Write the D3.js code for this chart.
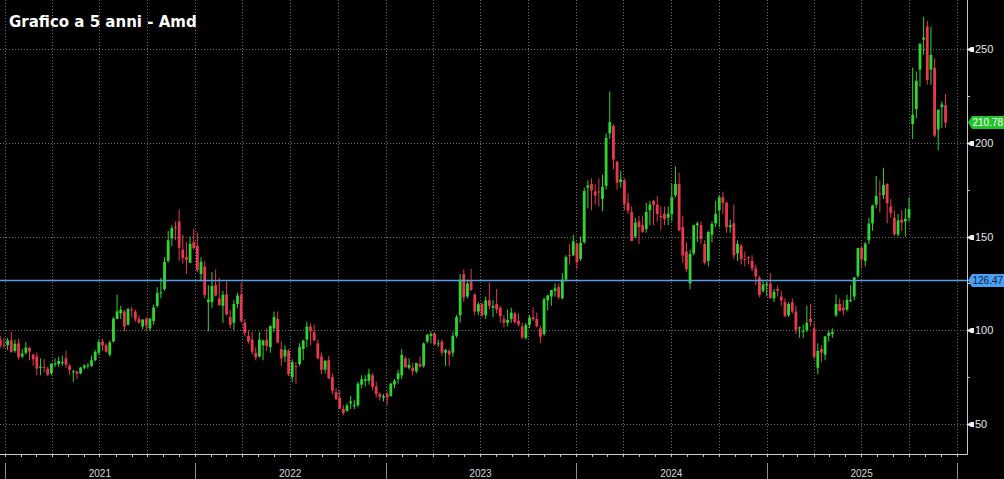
<!DOCTYPE html>
<html>
<head>
<meta charset="utf-8">
<script src="https://cdn.jsdelivr.net/npm/d3@7"></script>
<style>
  body { margin: 0; background: #000; }
  svg { display: block; }
</style>
</head>
<body>
<svg id="chart" width="1004" height="479"></svg>
<script>
var title = "Grafico a 5 anni - Amd";
var firstWeek = new Date(2020, 11, 21);   // monday of first weekly candle
var yTicks = [50, 100, 150, 200, 250];
var yMinor = [75, 125, 175, 225];
var years = [2021, 2022, 2023, 2024, 2025];
var lastPrice = 210.78;
var refLevel = 126.47;

// weekly candles: [open, high, low, close]
var ohlc2020 = [
  [95.0, 97.0, 90.5, 91.8], [92.0, 96.0, 90.3, 91.7]
];
var ohlc2021 = [
  [92.1, 96.0, 89.5, 94.6], [94.6, 99.2, 88.0, 88.5], [89.0, 95.0, 88.0, 92.8], [93.0, 95.5, 84.5, 85.6],
  [86.0, 90.0, 85.0, 87.6], [88.0, 93.7, 87.0, 90.7], [90.5, 91.0, 84.0, 88.6], [87.0, 87.5, 81.0, 84.5],
  [86.0, 88.0, 76.0, 79.6], [80.0, 85.0, 76.0, 80.6], [80.5, 84.5, 77.5, 80.3], [79.5, 80.5, 75.5, 76.3], [77.0, 82.5, 76.0, 82.0],
  [82.0, 85.0, 80.5, 82.2], [82.0, 86.0, 80.5, 83.6], [83.0, 86.5, 81.0, 83.0], [85.0, 89.0, 80.0, 81.6],
  [81.0, 82.0, 76.0, 78.8], [78.0, 79.0, 72.5, 78.1], [78.0, 78.5, 74.0, 76.8], [77.0, 80.5, 76.5, 80.1], [80.0, 82.0, 79.0, 81.2],
  [81.0, 82.5, 79.5, 81.3], [81.0, 86.5, 80.5, 84.0], [84.0, 89.5, 83.5, 88.5], [88.0, 95.0, 87.0, 93.7],
  [94.0, 95.5, 89.0, 91.9], [92.0, 93.0, 88.0, 88.6], [87.0, 94.5, 86.0, 93.5], [94.0, 107.0, 93.5, 106.2],
  [106.0, 119.0, 106.0, 110.1], [109.0, 113.0, 106.0, 111.0], [110.0, 111.0, 99.5, 102.0], [103.0, 112.0, 102.5, 111.3], [111.0, 112.5, 107.0, 110.8],
  [110.0, 111.0, 104.5, 105.8], [106.0, 108.0, 103.5, 104.0], [102.0, 106.0, 100.5, 105.6], [106.0, 107.0, 99.5, 102.5],
  [101.0, 106.5, 99.5, 106.1], [105.0, 113.5, 103.0, 112.1], [113.0, 123.0, 112.0, 119.8], [120.0, 128.0, 117.0, 120.2],
  [122.0, 139.0, 121.0, 136.5], [137.0, 153.0, 136.0, 148.0], [149.0, 156.0, 145.0, 154.5], [155.0, 158.0, 148.0, 154.8], [158.0, 164.5, 137.0, 144.0],
  [143.0, 151.0, 135.5, 138.5], [139.0, 147.0, 130.0, 137.5], [136.0, 150.0, 136.0, 146.0], [147.0, 154.0, 143.0, 143.9]
];
var ohlc2022 = [
  [145.0, 152.0, 131.0, 132.0], [130.0, 139.0, 126.0, 136.5], [134.0, 137.0, 117.0, 118.8], [115.0, 124.0, 99.4, 116.4], [115.0, 131.0, 112.0, 123.6],
  [124.0, 132.5, 118.0, 118.5], [117.0, 128.0, 113.0, 113.5], [113.0, 121.0, 104.0, 119.0], [119.0, 126.0, 108.0, 108.4],
  [107.0, 111.0, 101.0, 102.9], [104.0, 116.0, 100.0, 114.0], [114.0, 120.0, 112.0, 118.5], [119.0, 125.5, 104.0, 105.0],
  [104.0, 106.0, 97.0, 98.5], [97.0, 100.0, 93.0, 94.0], [95.0, 99.0, 87.0, 88.5], [88.0, 91.0, 84.0, 85.5],
  [86.0, 99.0, 85.5, 95.0], [92.0, 95.0, 84.0, 94.5], [95.0, 101.0, 89.0, 91.5], [91.0, 102.5, 88.0, 102.2], [101.0, 110.0, 99.0, 107.0],
  [106.0, 110.0, 93.0, 93.5], [90.0, 94.0, 81.0, 85.0], [86.0, 92.0, 83.0, 89.6], [89.0, 90.0, 75.5, 76.5],
  [75.0, 84.5, 72.5, 83.0], [81.0, 83.0, 71.5, 80.5], [82.0, 93.0, 81.0, 91.0], [90.0, 95.0, 84.0, 94.5],
  [95.0, 104.5, 91.0, 102.0], [102.0, 103.5, 92.0, 99.5], [99.0, 103.0, 94.0, 94.8], [93.0, 95.0, 84.5, 85.0], [86.0, 88.0, 76.5, 78.8],
  [79.0, 84.0, 77.0, 83.8], [84.0, 86.5, 74.0, 74.4], [75.0, 77.0, 66.0, 67.7], [67.0, 69.0, 62.8, 63.4],
  [64.0, 68.0, 58.0, 58.2], [58.0, 60.0, 54.6, 55.9], [57.0, 61.0, 56.5, 59.9], [61.0, 65.0, 58.0, 62.0], [60.0, 63.0, 58.0, 60.0],
  [60.0, 72.5, 59.0, 71.5], [71.0, 76.0, 69.0, 73.8], [73.0, 76.0, 70.0, 73.9], [73.0, 79.5, 71.0, 76.8],
  [76.0, 77.0, 68.0, 69.8], [70.0, 72.5, 64.0, 66.0], [66.0, 67.0, 62.5, 64.5], [64.0, 66.0, 62.0, 64.8]
];
var ohlc2023 = [
  [66.0, 67.5, 60.0, 64.0], [65.0, 72.0, 64.5, 71.5], [71.0, 74.0, 69.0, 73.0], [74.0, 79.0, 71.5, 77.0], [76.0, 90.0, 74.0, 86.8],
  [85.0, 86.0, 80.0, 80.3], [80.0, 85.0, 79.0, 81.5], [80.0, 82.5, 76.0, 78.1], [78.0, 82.5, 77.0, 82.5],
  [82.0, 86.0, 80.0, 80.6], [81.0, 93.5, 80.0, 93.0], [94.0, 98.0, 93.0, 97.5], [97.0, 99.5, 93.0, 98.0],
  [98.0, 99.0, 92.0, 92.5], [93.0, 95.0, 91.0, 93.0], [94.0, 95.0, 86.5, 88.0], [88.0, 90.0, 81.0, 89.4],
  [89.0, 90.0, 81.0, 87.0], [88.0, 99.0, 86.0, 97.0], [97.0, 108.0, 96.0, 107.0], [108.0, 130.0, 104.0, 127.0], [130.0, 132.5, 115.0, 117.5],
  [118.0, 127.0, 117.0, 124.9], [126.0, 132.8, 121.0, 121.4], [119.0, 120.0, 108.0, 110.0], [110.0, 115.0, 108.0, 113.9],
  [114.0, 115.0, 107.0, 108.0], [108.0, 118.0, 106.0, 115.9], [116.0, 125.5, 111.0, 113.0], [112.0, 116.0, 107.0, 113.0], [114.0, 122.0, 109.0, 111.0],
  [112.0, 113.0, 104.0, 107.6], [106.0, 108.0, 101.5, 104.0], [104.0, 111.0, 102.0, 105.5], [106.0, 112.0, 104.0, 109.4],
  [109.0, 110.0, 103.5, 104.3], [105.0, 109.0, 102.0, 103.0], [102.0, 104.0, 95.5, 96.1], [96.0, 104.0, 95.0, 102.8],
  [103.0, 108.0, 101.0, 106.7], [107.0, 112.0, 105.0, 105.8], [106.0, 109.5, 101.5, 102.1], [101.0, 102.5, 93.1, 96.6], [98.0, 117.5, 97.0, 116.5],
  [116.0, 119.0, 110.5, 118.6], [118.0, 121.5, 113.0, 121.4], [121.0, 125.0, 118.0, 122.3], [123.0, 125.0, 116.5, 117.6],
  [117.0, 130.5, 116.5, 127.0], [127.0, 140.0, 126.0, 139.0], [140.0, 146.0, 135.0, 139.6], [140.0, 151.0, 139.5, 147.4]
];
var ohlc2024 = [
  [146.0, 147.0, 132.5, 136.3], [138.0, 150.0, 137.0, 146.6], [147.0, 176.0, 146.0, 174.2], [176.0, 180.0, 165.0, 177.3], [178.0, 181.0, 164.0, 174.5],
  [174.0, 178.0, 167.0, 171.8], [174.0, 181.0, 166.0, 173.9], [170.0, 183.0, 163.5, 176.5], [177.0, 205.0, 175.0, 202.6],
  [205.0, 227.3, 202.0, 211.0], [209.0, 210.0, 186.0, 191.0], [190.0, 190.0, 175.0, 178.7], [179.0, 185.0, 176.0, 180.5],
  [180.0, 181.0, 164.0, 167.5], [168.0, 173.0, 162.0, 163.7], [163.0, 166.0, 147.5, 147.6], [150.0, 160.0, 149.0, 157.4], [158.0, 161.0, 146.0, 155.0],
  [156.0, 161.0, 152.0, 152.5], [154.0, 168.0, 152.0, 163.0], [164.0, 169.0, 156.0, 167.0], [169.0, 169.5, 156.0, 166.9],
  [167.0, 171.5, 158.0, 162.0], [161.0, 166.0, 153.5, 160.3], [162.0, 166.0, 156.0, 159.2], [160.0, 166.0, 156.0, 162.2],
  [162.0, 178.0, 158.0, 171.0], [172.0, 187.3, 171.0, 178.0], [178.0, 184.0, 153.0, 153.2], [155.0, 161.0, 136.0, 139.9], [142.0, 147.0, 131.0, 132.5],
  [125.0, 143.0, 121.8, 140.7], [141.0, 156.0, 140.0, 156.0], [156.0, 158.0, 147.0, 157.0], [156.0, 158.0, 146.0, 148.6],
  [146.0, 148.0, 135.0, 136.0], [137.0, 153.0, 134.0, 152.4], [151.0, 158.0, 147.0, 156.7], [157.0, 169.0, 155.0, 162.0], [164.0, 172.0, 155.0, 170.9],
  [171.0, 174.0, 162.0, 167.9], [168.0, 168.5, 152.0, 155.0], [155.0, 159.0, 152.0, 156.0], [157.0, 167.0, 138.0, 140.0],
  [141.0, 148.0, 137.0, 146.0], [145.0, 146.0, 135.0, 138.0], [138.0, 142.0, 134.0, 137.7], [139.0, 139.5, 135.0, 138.6],
  [137.0, 140.0, 131.5, 133.0], [133.0, 135.0, 124.0, 128.8], [128.0, 129.0, 117.5, 118.8], [121.0, 127.0, 120.0, 124.4], [124.0, 126.0, 118.0, 124.6]
];
var ohlc2025 = [
  [125.0, 130.5, 117.0, 117.0], [117.0, 122.0, 115.0, 120.5], [122.0, 124.0, 118.0, 121.0], [118.0, 121.0, 113.0, 115.9],
  [115.0, 117.0, 107.0, 107.6], [108.0, 115.0, 107.0, 114.0], [115.0, 117.0, 109.0, 110.0], [110.0, 113.0, 98.0, 100.0],
  [101.0, 102.0, 96.0, 101.5], [99.0, 103.0, 96.0, 99.5], [100.0, 113.0, 99.0, 104.0], [106.0, 114.0, 102.0, 104.4], [101.0, 104.0, 84.5, 85.8],
  [80.0, 93.0, 76.5, 89.0], [90.0, 92.0, 83.0, 88.0], [87.0, 97.0, 84.0, 96.7], [97.0, 100.0, 94.0, 98.7],
  [98.0, 101.0, 96.0, 99.0], [108.0, 119.0, 107.0, 114.0], [114.0, 117.0, 110.0, 110.3], [112.0, 116.0, 108.0, 110.7],
  [111.0, 119.0, 110.0, 116.2], [116.0, 124.0, 115.0, 116.2], [118.0, 128.5, 116.0, 128.2], [129.0, 144.0, 128.0, 143.8], [144.0, 145.0, 133.0, 137.9],
  [137.0, 147.0, 134.0, 146.2], [148.0, 160.0, 146.0, 156.9], [157.0, 167.0, 153.0, 166.5], [167.0, 182.3, 165.0, 171.7],
  [173.0, 180.0, 163.0, 172.8], [172.0, 186.6, 170.0, 177.5], [178.0, 178.5, 157.0, 167.8], [166.0, 170.0, 160.0, 162.6],
  [160.0, 164.0, 150.5, 151.1], [151.0, 162.0, 150.0, 158.6], [159.0, 164.0, 153.0, 157.4], [158.0, 165.0, 150.0, 159.5], [160.0, 171.0, 158.0, 164.7],
  [210.0, 240.0, 202.0, 214.9], [218.0, 238.0, 213.0, 233.0], [239.0, 247.0, 230.0, 252.9], [255.0, 267.1, 247.0, 256.1],
  [262.0, 265.0, 231.0, 233.5], [239.0, 262.0, 231.0, 246.8], [240.0, 245.0, 203.0, 203.8], [207.0, 218.0, 196.0, 217.5],
  [219.0, 222.0, 208.0, 220.4], [220.0, 226.0, 208.0, 210.78]
];

var green = "#2fd62f", red = "#e8374f";
var plotRight = 967, plotBottom = 454;

var candles = [].concat(ohlc2020, ohlc2021, ohlc2022, ohlc2023, ohlc2024, ohlc2025)
  .map(function(d, i) {
    // centre each weekly candle on its wednesday
    return { date: d3.timeDay.offset(d3.timeMonday.offset(firstWeek, i), 2),
             o: d[0], h: d[1], l: d[2], c: d[3] };
  });

var svg = d3.select("#chart");

var x = d3.scaleTime()
    .domain([new Date(2021, 0, 1), new Date(2026, 0, 1)])
    .range([5, 957]);
var y = d3.scaleLinear()
    .domain([50, 250])
    .range([424, 49]);

svg.append("defs").append("clipPath").attr("id", "plot")
  .append("rect").attr("x", 0).attr("y", 0).attr("width", plotRight).attr("height", plotBottom);

// dotted grid: quarters and 50s
var quarters = d3.timeMonth.every(3).range(new Date(2020, 9, 1), new Date(2026, 1, 1))
    .filter(function(d) { return x(d) >= 0 && x(d) < plotRight; });
svg.append("g").selectAll("line")
  .data(quarters)
  .enter().append("line")
    .attr("x1", function(d) { return Math.round(x(d)) + 0.5; })
    .attr("x2", function(d) { return Math.round(x(d)) + 0.5; })
    .attr("y1", 0).attr("y2", plotBottom)
    .attr("stroke", "#6e6e6e").attr("stroke-dasharray", "1,2");
svg.append("g").selectAll("line")
  .data(yTicks)
  .enter().append("line")
    .attr("x1", 0).attr("x2", plotRight)
    .attr("y1", function(d) { return Math.round(y(d)) + 0.5; })
    .attr("y2", function(d) { return Math.round(y(d)) + 0.5; })
    .attr("stroke", "#6e6e6e").attr("stroke-dasharray", "1,2");

// candles
var g = svg.append("g").attr("clip-path", "url(#plot)");
var col = function(d) { return d.c >= d.o ? green : red; };
g.selectAll(".wick")
  .data(candles)
  .enter().append("line")
    .attr("class", "wick")
    .attr("x1", function(d) { return x(d.date); })
    .attr("x2", function(d) { return x(d.date); })
    .attr("y1", function(d) { return y(d.h); })
    .attr("y2", function(d) { return y(d.l); })
    .attr("stroke", col).attr("stroke-width", 1);
g.selectAll(".body")
  .data(candles)
  .enter().append("rect")
    .attr("class", "body")
    .attr("x", function(d) { return x(d.date) - 1.4; })
    .attr("width", 2.8)
    .attr("y", function(d) { return y(Math.max(d.o, d.c)); })
    .attr("height", function(d) { return Math.max(1, Math.abs(y(d.o) - y(d.c))); })
    .attr("fill", col);

// reference level
svg.append("line")
  .attr("x1", 0).attr("x2", plotRight)
  .attr("y1", y(refLevel)).attr("y2", y(refLevel))
  .attr("stroke", "#5a9ee8").attr("stroke-width", 1.5);

// axes lines
svg.append("line").attr("x1", plotRight + 0.5).attr("x2", plotRight + 0.5)
  .attr("y1", 0).attr("y2", plotBottom + 0.5).attr("stroke", "#c8c8c8");
svg.append("line").attr("x1", 0).attr("x2", plotRight + 0.5)
  .attr("y1", plotBottom + 0.5).attr("y2", plotBottom + 0.5).attr("stroke", "#c8c8c8");

// month ticks on the time axis
var months = d3.timeMonth.range(new Date(2020, 11, 1), new Date(2026, 1, 1))
    .filter(function(d) { return x(d) >= 0 && x(d) < plotRight; });
svg.append("g").selectAll("line")
  .data(months)
  .enter().append("line")
    .attr("x1", function(d) { return Math.round(x(d)) + 0.5; })
    .attr("x2", function(d) { return Math.round(x(d)) + 0.5; })
    .attr("y1", plotBottom).attr("y2", plotBottom + 3)
    .attr("stroke", "#c8c8c8");

// year separators and labels
svg.append("g").selectAll("line")
  .data(years.concat([2026]))
  .enter().append("line")
    .attr("x1", function(d) { return Math.round(x(new Date(d, 0, 1))) + 0.5; })
    .attr("x2", function(d) { return Math.round(x(new Date(d, 0, 1))) + 0.5; })
    .attr("y1", 463).attr("y2", 479)
    .attr("stroke", "#8a8a8a");
svg.append("g").selectAll("text")
  .data(years)
  .enter().append("text")
    .attr("x", function(d) { return x(new Date(d, 6, 2)); })
    .attr("y", 477)
    .attr("text-anchor", "middle")
    .attr("font-family", "Liberation Sans, Arial, sans-serif")
    .attr("font-size", 10)
    .attr("fill", "#d8d8d8")
    .text(function(d) { return d; });

// y axis: flags, labels, minor ticks
var ya = svg.append("g");
ya.selectAll("path")
  .data(yTicks)
  .enter().append("path")
    .attr("d", function(d) {
      var yy = Math.round(y(d)) + 0.5;
      return "M" + plotRight + "," + yy + "L971," + (yy - 2.5) + "L974," + (yy - 2.5) +
             "L974," + (yy + 2.5) + "L971," + (yy + 2.5) + "Z";
    })
    .attr("fill", "#f0f0f0");
ya.selectAll("text")
  .data(yTicks)
  .enter().append("text")
    .attr("x", 975)
    .attr("y", function(d) { return y(d) + 4; })
    .attr("font-family", "Liberation Sans, Arial, sans-serif")
    .attr("font-size", 11)
    .attr("fill", "#e6e6e6")
    .text(function(d) { return d; });
ya.selectAll("line")
  .data(yMinor)
  .enter().append("line")
    .attr("x1", plotRight).attr("x2", plotRight + 3)
    .attr("y1", function(d) { return Math.round(y(d)) + 0.5; })
    .attr("y2", function(d) { return Math.round(y(d)) + 0.5; })
    .attr("stroke", "#c8c8c8");

// price tags on the right
function tag(v, fill, color) {
  var yy = y(v);
  svg.append("path")
    .attr("d", "M968," + yy + "L972," + (yy - 6.5) + "L1004," + (yy - 6.5) +
               "L1004," + (yy + 6.5) + "L972," + (yy + 6.5) + "Z")
    .attr("fill", fill);
  svg.append("text")
    .attr("x", 972.5)
    .attr("y", yy + 3.6)
    .attr("font-family", "Liberation Sans, Arial, sans-serif")
    .attr("font-size", 10)
    .attr("fill", color)
    .text(v.toFixed(2));
}
tag(lastPrice, "#22c42a", "#ffffff");
tag(refLevel, "#4aa0f2", "#0c2448");

svg.append("text")
  .attr("x", 9)
  .attr("y", 27)
  .attr("font-family", "DejaVu Sans, Verdana, sans-serif")
  .attr("font-weight", "bold")
  .attr("font-size", 15)
  .attr("fill", "#ffffff")
  .text(title);
</script>
</body>
</html>
